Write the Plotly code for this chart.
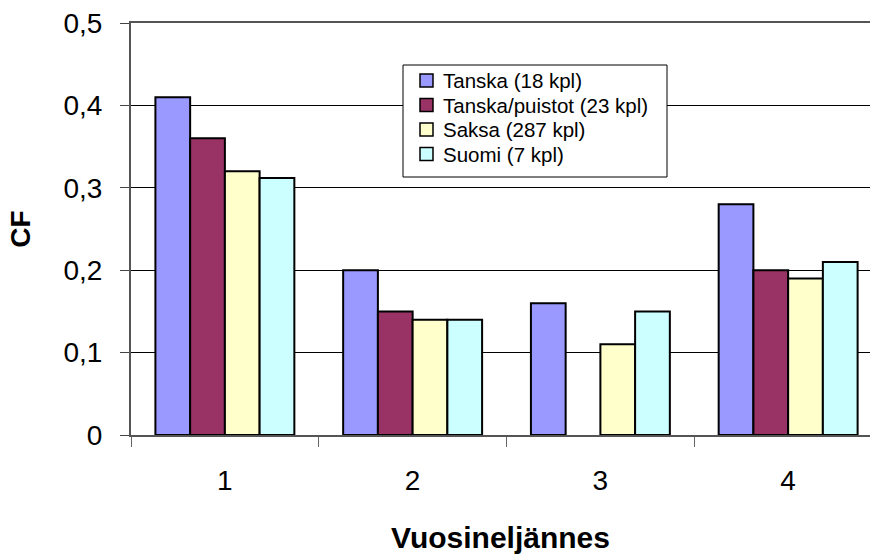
import plotly.graph_objects as go

# Quarterly CF values per dataset
quarters = ["1", "2", "3", "4"]
series_names = ["Tanska (18 kpl)", "Tanska/puistot (23 kpl)", "Saksa (287 kpl)", "Suomi (7 kpl)"]
tanska = [0.41, 0.20, 0.16, 0.28]
tanska_puistot = [0.36, 0.15, None, 0.20]
saksa = [0.32, 0.14, 0.11, 0.19]
suomi = [0.312, 0.14, 0.15, 0.21]
y_ticks = [0, 0.1, 0.2, 0.3, 0.4, 0.5]
y_tick_labels = ["0", "0,1", "0,2", "0,3", "0,4", "0,5"]

colors = ["#9999FF", "#993366", "#FFFFCC", "#CCFFFF"]
values = [tanska, tanska_puistot, saksa, suomi]

FONT = "Liberation Sans, Arial, sans-serif"
W, H = 870, 555
ML, MR, MT, MB = 131, 0, 23, 120
PW, PH = W - ML - MR, H - MT - MB


def px(x):
    """Pixel column -> paper x."""
    return (x - ML) / PW


def py(y):
    """Pixel row -> paper y."""
    return (H - MB - y) / PH


fig = go.Figure()
for name, vals, col in zip(series_names, values, colors):
    fig.add_trace(go.Bar(
        x=quarters, y=vals, name=name,
        marker=dict(color=col, line=dict(color="#000000", width=2)),
    ))

# Boxed legend drawn inside the plot area
shapes = [dict(
    type="rect", xref="paper", yref="paper",
    x0=px(403), x1=px(667), y0=py(177), y1=py(65),
    fillcolor="white", line=dict(color="#000000", width=1), layer="above",
)]
annotations = []
row_top, row_step = 80.5, 24.5
for i, (name, col) in enumerate(zip(series_names, colors)):
    yc = row_top + i * row_step
    shapes.append(dict(
        type="rect", xref="paper", yref="paper",
        x0=px(420), x1=px(433), y0=py(yc + 6.5), y1=py(yc - 6.5),
        fillcolor=col, line=dict(color="#000000", width=1.5), layer="above",
    ))
    annotations.append(dict(
        text=name, xref="paper", yref="paper", x=px(441), y=py(yc),
        xanchor="left", yanchor="middle", showarrow=False,
        font=dict(size=20.5, family=FONT, color="#000000"),
    ))

fig.update_layout(
    width=W, height=H,
    margin=dict(l=ML, r=MR, t=MT, b=MB),
    paper_bgcolor="white", plot_bgcolor="white",
    barmode="group", bargap=0.26, bargroupgap=0,
    font=dict(family=FONT, color="#000000"),
    showlegend=False,
    shapes=shapes,
    annotations=annotations,
)

fig.update_xaxes(
    type="category",
    range=[-0.5, 3.436],
    tickson="boundaries",
    ticks="outside", ticklen=10, tickcolor="#666666", tickwidth=1,
    showline=True, linecolor="#555555", linewidth=2, mirror=True,
    showgrid=False,
    tickfont=dict(size=28, family=FONT),
    ticklabelstandoff=19,
    title=dict(text="<b>Vuosineljännes</b>", font=dict(size=30, family=FONT), standoff=32),
)

fig.update_yaxes(
    range=[0, 0.5],
    tickvals=y_ticks,
    ticktext=y_tick_labels,
    ticks="outside", ticklen=9, tickcolor="#444444", tickwidth=1,
    showline=True, linecolor="#555555", linewidth=2,
    showgrid=True, gridcolor="#000000", gridwidth=1,
    zeroline=False,
    tickfont=dict(size=28, family=FONT),
    ticklabelstandoff=12,
    title=dict(text="<b>CF</b>", font=dict(size=28, family=FONT), standoff=25),
)

fig.write_html("out.html")
